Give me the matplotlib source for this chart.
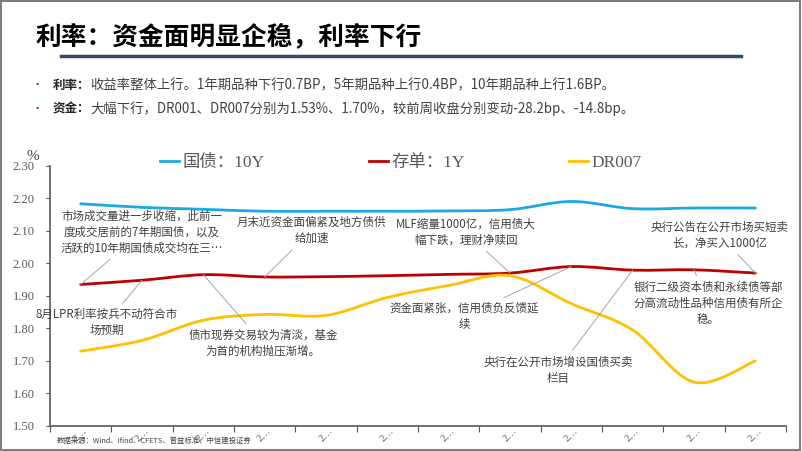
import numpy as np
import matplotlib
matplotlib.use("Agg")
import matplotlib.pyplot as plt
from matplotlib.path import Path
from matplotlib.patches import PathPatch, Rectangle
from matplotlib.lines import Line2D

plt.rcParams['font.family'] = ['Noto Sans CJK SC', 'DejaVu Sans']

# 数据
periods = list(range(12))
tick_labels = ['2…'] * 12
gz_10y = [2.183, 2.172, 2.166, 2.160, 2.160, 2.160, 2.161, 2.165, 2.190, 2.168, 2.170, 2.170]
cd_1y = [1.935, 1.948, 1.965, 1.958, 1.959, 1.962, 1.966, 1.970, 1.990, 1.979, 1.980, 1.970]
dr007 = [1.730, 1.763, 1.825, 1.843, 1.840, 1.895, 1.932, 1.962, 1.876, 1.795, 1.635, 1.700]
series_names = ['国债：10Y', '存单：1Y', 'DR007']

notes = [
    ('市场成交量进一步收缩，此前一\n度成交居前的7年期国债，以及\n活跃的10年期国债成交均在三…', 0, 1.00, 2.096),
    ('月末近资金面偏紧及地方债供\n给加速', 3, 3.77, 2.101),
    ('MLF缩量1000亿，信用债大\n幅下跌，理财净赎回', 7, 6.28, 2.096),
    ('央行公告在公开市场买短卖\n长，净买入1000亿', 11, 10.42, 2.086),
    ('8月LPR利率按兵不动符合市\n场预期', 1, 0.42, 1.817),
    ('债市现券交易较为清淡，基金\n为首的机构抛压渐增。', 2, 2.97, 1.755),
    ('资金面紧张，信用债负反馈延\n续', 8, 6.25, 1.838),
    ('银行二级资本债和永续债等部\n分高流动性品种信用债有所企\n稳。', 10, 10.23, 1.877),
    ('央行在公开市场增设国债买卖\n栏目', 9, 7.78, 1.672),
]


def smooth_path(x, y):
    # Catmull-Rom 转三次贝塞尔，模拟 Excel 的平滑线
    p = np.column_stack([x, y]).astype(float)
    ext = np.vstack([p[0], p, p[-1]])
    verts = [p[0]]
    codes = [Path.MOVETO]
    for i in range(len(p) - 1):
        p0, p1, p2, p3 = ext[i], ext[i + 1], ext[i + 2], ext[i + 3]
        c1 = p1 + (p2 - p0) / 6.0
        c2 = p2 - (p3 - p1) / 6.0
        verts += [c1, c2, p2]
        codes += [Path.CURVE4] * 3
    return Path(verts, codes)


fig = plt.figure(figsize=(8.02, 4.51), dpi=100)
fig.patch.set_facecolor('white')

# 标题
fig.text(35 / 802, 1 - 37 / 451, '利率：资金面明显企稳，利率下行', fontsize=18.5,
         fontweight='bold', va='center', ha='left', color='black')
fig.add_artist(Line2D([61 / 802, 741 / 802], [1 - 56 / 451, 1 - 56 / 451],
                      transform=fig.transFigure, color='#2E4C6D', lw=2.5))

# 要点
bullets = [
    ('利率：', '收益率整体上行。1年期品种下行0.7BP，5年期品种上行0.4BP，10年期品种上行1.6BP。', 85),
    ('资金：', '大幅下行，DR001、DR007分别为1.53%、1.70%，较前周收盘分别变动-28.2bp、-14.8bp。', 109),
]
head_texts = []
for head, body, py in bullets:
    yy = 1 - py / 451
    fig.text(37 / 802, yy, '•', fontsize=8, color='#C00000', va='center', ha='center')
    t = fig.text(53 / 802, yy, head, fontsize=9, fontweight='bold', color='#262626', va='center')
    head_texts.append((t, body, yy))

fig.canvas.draw()
renderer = fig.canvas.get_renderer()
for t, body, yy in head_texts:
    bb = t.get_window_extent(renderer)
    fig.text(bb.x1 / fig.bbox.width, yy, body, fontsize=9.6, color='#404040', va='center')

# 图表
ax = fig.add_axes([50 / 802, 1 - 426 / 451, 736 / 802, (426 - 165.7) / 451])
ax.set_xlim(-0.5, 11.5)
ax.set_ylim(1.5, 2.3)

colors = ['#1CA8E3', '#C00000', '#FFC000']
for vals, c in zip([gz_10y, cd_1y, dr007], colors):
    ax.add_patch(PathPatch(smooth_path(periods, vals), fill=False, ec=c, lw=2.0,
                           capstyle='round', joinstyle='round', zorder=3))

for s in ['top', 'right']:
    ax.spines[s].set_visible(False)
for s in ['left', 'bottom']:
    ax.spines[s].set_color('#595959')
    ax.spines[s].set_linewidth(1.2)

ax.set_yticks(np.arange(1.5, 2.31, 0.1))
ax.set_yticklabels(['%.2f' % v for v in np.arange(1.5, 2.31, 0.1)],
                   family=['Liberation Serif', 'DejaVu Serif'], fontsize=9, color='#595959')
ax.tick_params(axis='y', direction='out', length=3, color='#595959', pad=8)

ax.set_xticks(np.arange(-0.5, 12, 1))
ax.set_xticklabels([])
ax.tick_params(axis='x', which='major', direction='out', length=4, color='#595959')
ax.set_xticks(periods, minor=True)
ax.set_xticklabels(tick_labels, minor=True, rotation=45, fontsize=7.5, color='#595959',
                   family=['Liberation Serif', 'Noto Sans CJK SC'])
ax.tick_params(axis='x', which='minor', length=0, pad=0)

fig.text(33 / 802, 1 - 157 / 451, '%', fontsize=11, color='#404040', va='center', ha='center',
         family=['Liberation Serif', 'DejaVu Serif'])

# 图例
handles = [Line2D([], [], color=c, lw=2.0) for c in colors]
fig.legend(handles, series_names, loc='center', bbox_to_anchor=(401 / 802, 1 - 163 / 451),
           ncol=3, frameon=False, handlelength=1.1, handletextpad=0.2, columnspacing=6.0,
           prop={'family': ['Liberation Serif', 'Noto Sans CJK SC'], 'size': 12.5},
           labelcolor='#595959')

# 注释
for txt, idx, tx, ty in notes:
    ax.annotate(txt, xy=(periods[idx], cd_1y[idx]), xytext=(tx, ty),
                ha='center', va='center', fontsize=8.3, color='#404040', linespacing=1.3,
                arrowprops=dict(arrowstyle='-', color='#A6A6A6', lw=0.7,
                                shrinkA=2, shrinkB=0), zorder=4)

fig.text(57 / 802, 1 - 441 / 451, '数据来源：Wind、Ifind、CFETS、普益标准、中信建投证券',
         fontsize=5.3, color='#404040', va='center', ha='left')

fig.add_artist(Rectangle((0.001, 0.002), 0.997, 0.996, transform=fig.transFigure,
                         fill=False, ec='#7F7F7F', lw=1.5))

fig.savefig('out.png', dpi=100)
